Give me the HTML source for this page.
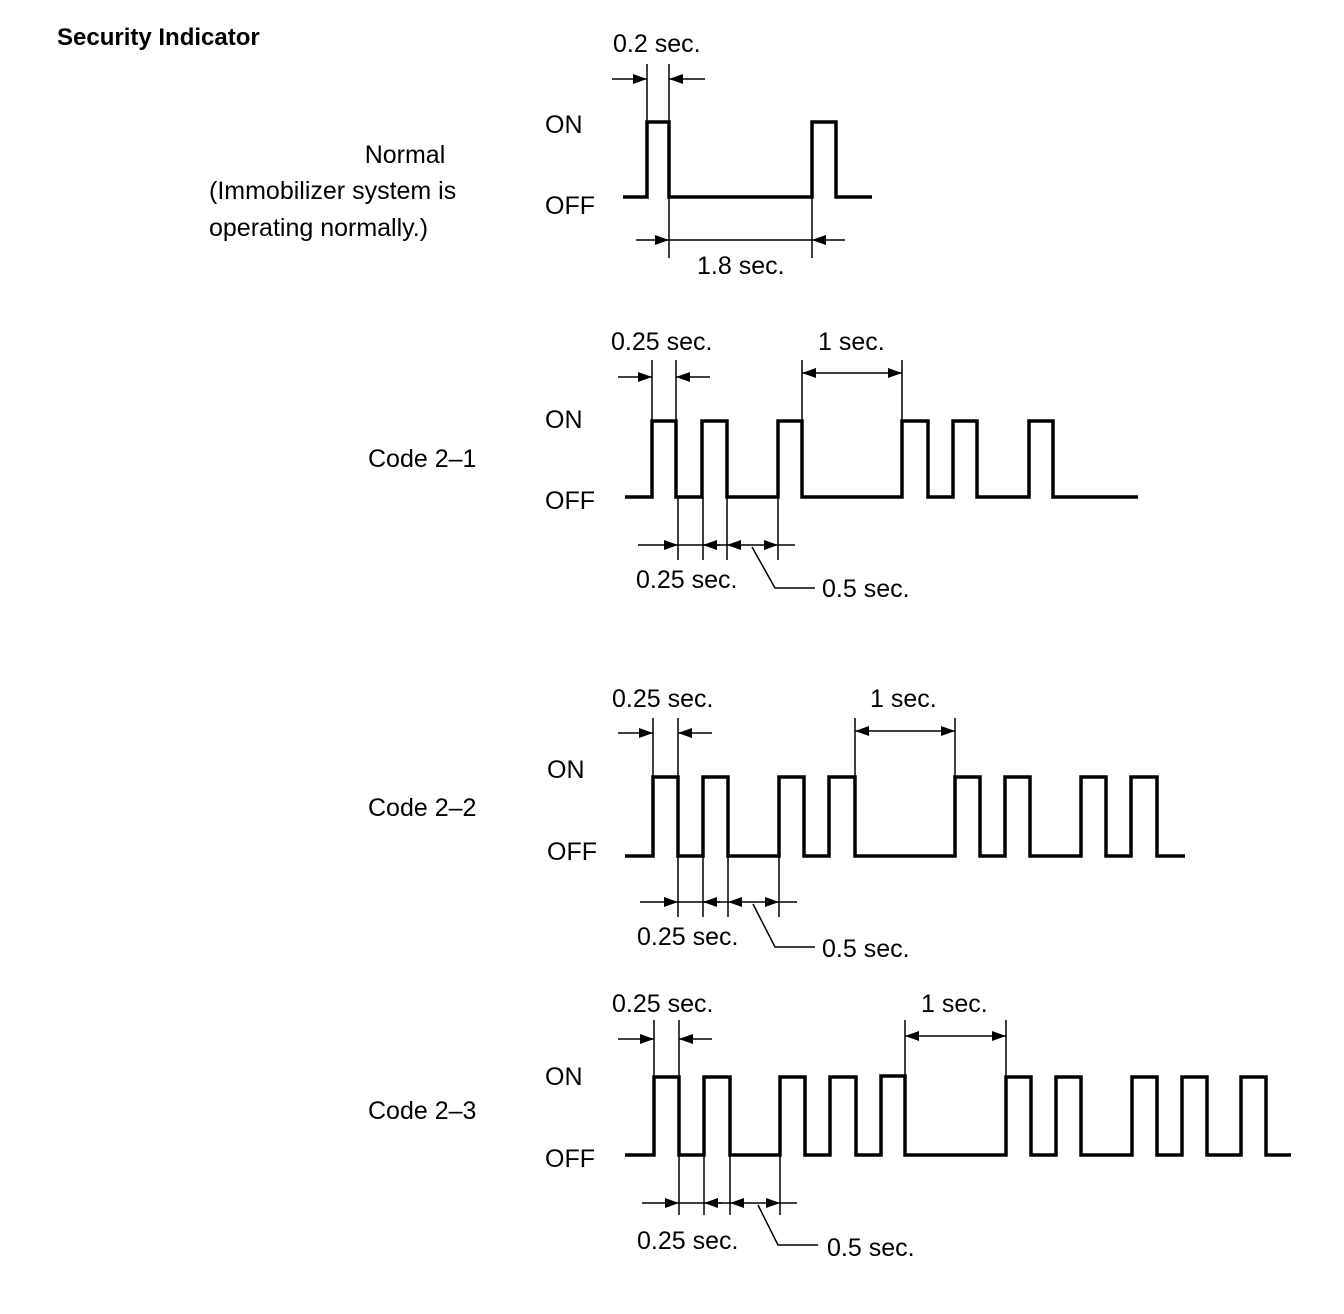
<!DOCTYPE html>
<html><head><meta charset="utf-8"><style>
html,body{margin:0;padding:0;background:#fff;}
svg{display:block;}
text{font-family:"Liberation Sans",Arial,sans-serif;font-size:25px;fill:#000;}
</style></head><body>
<svg width="1344" height="1314" viewBox="0 0 1344 1314" xmlns="http://www.w3.org/2000/svg">
<defs>
<marker id="a" viewBox="0 0 14 10" refX="14" refY="5" markerWidth="14" markerHeight="10" markerUnits="userSpaceOnUse" orient="auto">
<path d="M0,0 L14,5 L0,10 z" fill="#000"/></marker>
</defs>
<text x="57" y="45" style="font-weight:bold;font-size:24px">Security Indicator</text>

<!-- Normal -->
<text x="405" y="163" text-anchor="middle">Normal</text>
<text x="209" y="199">(Immobilizer system is</text>
<text x="209" y="236">operating normally.)</text>
<text x="545" y="133">ON</text>
<text x="545" y="214">OFF</text>
<text x="613" y="52">0.2 sec.</text>
<text x="697" y="274">1.8 sec.</text>
<g fill="none" stroke="#000" stroke-width="3.5">
<path d="M623,197 H647 V122 H669 V197 H812 V122 H836 V197 H872"/>
</g>
<g fill="none" stroke="#000" stroke-width="1.5">
<path d="M647,64 V122 M669,64 V197 M669,197 V258 M812,197 V258"/>
<line x1="612" y1="79" x2="647" y2="79" marker-end="url(#a)"/>
<line x1="705" y1="79" x2="669" y2="79" marker-end="url(#a)"/>
<line x1="636" y1="240" x2="669" y2="240" marker-end="url(#a)"/>
<line x1="845" y1="240" x2="812" y2="240" marker-end="url(#a)"/>
<line x1="669" y1="240" x2="812" y2="240"/>
</g>

<!-- Code 2-1 -->
<text x="368" y="467">Code 2–1</text>
<text x="545" y="428">ON</text>
<text x="545" y="509">OFF</text>
<text x="611" y="350">0.25 sec.</text>
<text x="818" y="350">1 sec.</text>
<text x="636" y="588">0.25 sec.</text>
<text x="822" y="597">0.5 sec.</text>
<path fill="none" stroke="#000" stroke-width="3.5" d="M625,497 H652 V421 H676 V497 H702 V421 H727 V497 H778 V421 H802 V497 H902 V421 H928 V497 H953 V421 H977 V497 H1029 V421 H1053 V497 H1138"/>
<g fill="none" stroke="#000" stroke-width="1.5">
<path d="M652,360 V421 M676,360 V421 M802,360 V421 M902,360 V421 M678,497 V560 M703,497 V560 M727,497 V560 M778,497 V560"/>
<line x1="618" y1="377" x2="652" y2="377" marker-end="url(#a)"/>
<line x1="710" y1="377" x2="676" y2="377" marker-end="url(#a)"/>
<line x1="852" y1="373" x2="802" y2="373" marker-end="url(#a)"/>
<line x1="852" y1="373" x2="902" y2="373" marker-end="url(#a)"/>
<line x1="638" y1="545" x2="678" y2="545" marker-end="url(#a)"/>
<line x1="678" y1="545" x2="727" y2="545"/>
<line x1="720" y1="545" x2="703" y2="545" marker-end="url(#a)"/>
<line x1="752" y1="545" x2="727" y2="545" marker-end="url(#a)"/>
<line x1="752" y1="545" x2="778" y2="545" marker-end="url(#a)"/>
<line x1="778" y1="545" x2="795" y2="545"/>
<path d="M752,547 L775,588 H815"/>
</g>

<!-- Code 2-2 -->
<text x="368" y="816">Code 2–2</text>
<text x="547" y="778">ON</text>
<text x="547" y="860">OFF</text>
<text x="612" y="707">0.25 sec.</text>
<text x="870" y="707">1 sec.</text>
<text x="637" y="945">0.25 sec.</text>
<text x="822" y="957">0.5 sec.</text>
<path fill="none" stroke="#000" stroke-width="3.5" d="M625,856 H653 V777 H678 V856 H703 V777 H728 V856 H779 V777 H804 V856 H829 V777 H855 V856 H955 V777 H980 V856 H1005 V777 H1030 V856 H1081 V777 H1106 V856 H1131 V777 H1157 V856 H1185"/>
<g fill="none" stroke="#000" stroke-width="1.5">
<path d="M653,718 V777 M678,718 V777 M855,718 V777 M955,718 V777 M678,856 V917 M703,856 V917 M728,856 V917 M779,856 V917"/>
<line x1="618" y1="733" x2="653" y2="733" marker-end="url(#a)"/>
<line x1="712" y1="733" x2="678" y2="733" marker-end="url(#a)"/>
<line x1="905" y1="731" x2="855" y2="731" marker-end="url(#a)"/>
<line x1="905" y1="731" x2="955" y2="731" marker-end="url(#a)"/>
<line x1="640" y1="902" x2="678" y2="902" marker-end="url(#a)"/>
<line x1="678" y1="902" x2="728" y2="902"/>
<line x1="720" y1="902" x2="703" y2="902" marker-end="url(#a)"/>
<line x1="753" y1="902" x2="728" y2="902" marker-end="url(#a)"/>
<line x1="753" y1="902" x2="779" y2="902" marker-end="url(#a)"/>
<line x1="779" y1="902" x2="797" y2="902"/>
<path d="M753,904 L775,947 H815"/>
</g>

<!-- Code 2-3 -->
<text x="368" y="1119">Code 2–3</text>
<text x="545" y="1085">ON</text>
<text x="545" y="1167">OFF</text>
<text x="612" y="1012">0.25 sec.</text>
<text x="921" y="1012">1 sec.</text>
<text x="637" y="1249">0.25 sec.</text>
<text x="827" y="1256">0.5 sec.</text>
<path fill="none" stroke="#000" stroke-width="3.5" d="M625,1155 H654 V1077 H679 V1155 H704 V1077 H730 V1155 H780 V1077 H805 V1155 H830 V1077 H856 V1155 H881 V1076 H905 V1155 H1006 V1077 H1031 V1155 H1056 V1077 H1081 V1155 H1132 V1077 H1157 V1155 H1182 V1077 H1207 V1155 H1241 V1077 H1266 V1155 H1291"/>
<g fill="none" stroke="#000" stroke-width="1.5">
<path d="M654,1020 V1077 M679,1020 V1077 M905,1020 V1077 M1006,1020 V1077 M679,1155 V1215 M704,1155 V1215 M730,1155 V1215 M780,1155 V1215"/>
<line x1="618" y1="1039" x2="654" y2="1039" marker-end="url(#a)"/>
<line x1="712" y1="1039" x2="679" y2="1039" marker-end="url(#a)"/>
<line x1="955" y1="1036" x2="905" y2="1036" marker-end="url(#a)"/>
<line x1="955" y1="1036" x2="1006" y2="1036" marker-end="url(#a)"/>
<line x1="642" y1="1203" x2="679" y2="1203" marker-end="url(#a)"/>
<line x1="679" y1="1203" x2="730" y2="1203"/>
<line x1="722" y1="1203" x2="704" y2="1203" marker-end="url(#a)"/>
<line x1="756" y1="1203" x2="730" y2="1203" marker-end="url(#a)"/>
<line x1="756" y1="1203" x2="780" y2="1203" marker-end="url(#a)"/>
<line x1="780" y1="1203" x2="797" y2="1203"/>
<path d="M758,1205 L778,1245 H818"/>
</g>
</svg>
</body></html>
